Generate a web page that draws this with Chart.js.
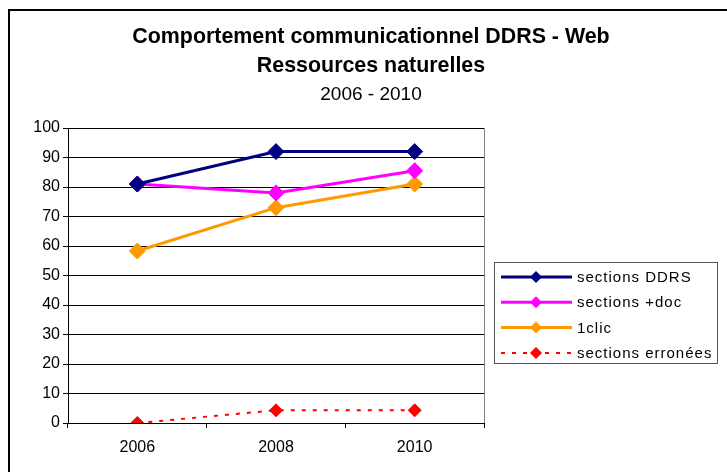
<!DOCTYPE html>
<html>
<head>
<meta charset="utf-8">
<script src="https://cdn.jsdelivr.net/npm/chart.js@4"></script>
<style>
    html, body { margin: 0; padding: 0; background: #fff; }
    #wrap { width: 727px; height: 472px; }
</style>
</head>
<body>
<div id="wrap"><canvas id="commChart" width="727" height="472"></canvas></div>
<script>
// Data
const years = ['2006', '2008', '2010'];
const sectionsDDRS = [81, 92, 92];
const sectionsDoc = [81, 78, 85.5];
const unClic = [58.3, 73, 81];
const sectionsErronees = [0, 4.3, 4.3];

const titleLines = ['Comportement communicationnel DDRS - Web', 'Ressources naturelles'];
const subtitleText = '2006 - 2010';

// Frame, title, plot border and boxed legend
const decorPlugin = {
    id: 'decor',
    afterDraw(chart) {
        const ctx = chart.ctx;
        const area = chart.chartArea;
        ctx.save();

        // outer frame (top + left visible)
        ctx.strokeStyle = '#000';
        ctx.lineWidth = 2;
        ctx.beginPath();
        ctx.moveTo(9, 472);
        ctx.lineTo(9, 10);
        ctx.lineTo(727, 10);
        ctx.stroke();

        // plot right border
        ctx.strokeStyle = '#808080';
        ctx.lineWidth = 1;
        ctx.beginPath();
        ctx.moveTo(area.right + 0.5, area.top);
        ctx.lineTo(area.right + 0.5, area.bottom);
        ctx.stroke();

        // titles
        ctx.fillStyle = '#000';
        ctx.textAlign = 'center';
        ctx.textBaseline = 'middle';
        ctx.font = 'bold 21.4px "Liberation Sans", Arial, sans-serif';
        ctx.fillText(titleLines[0], 371, 37);
        ctx.fillText(titleLines[1], 371, 66);
        ctx.font = '19px "Liberation Sans", Arial, sans-serif';
        ctx.fillText(subtitleText, 371, 95);

        // legend
        const lx = 494, ly = 262, lw = 223, lh = 101;
        ctx.strokeStyle = '#555';
        ctx.lineWidth = 1;
        ctx.strokeRect(lx + 0.5, ly + 0.5, lw, lh);

        ctx.textAlign = 'left';
        ctx.font = '15px "Liberation Sans", Arial, sans-serif';
        ctx.letterSpacing = '1px';
        chart.data.datasets.forEach((ds, i) => {
            const y = 277 + i * 25.3;
            ctx.strokeStyle = ds.borderColor;
            ctx.lineWidth = ds.legendLineWidth;
            ctx.setLineDash(ds.borderDash || []);
            ctx.beginPath();
            ctx.moveTo(501, y);
            ctx.lineTo(572, y);
            ctx.stroke();
            ctx.setLineDash([]);
            const r = 6;
            ctx.fillStyle = ds.pointBackgroundColor;
            ctx.beginPath();
            ctx.moveTo(536 - r, y);
            ctx.lineTo(536, y - r);
            ctx.lineTo(536 + r, y);
            ctx.lineTo(536, y + r);
            ctx.closePath();
            ctx.fill();
            ctx.fillStyle = '#000';
            ctx.fillText(ds.label, 577, y + 1);
        });
        ctx.restore();
    }
};

const ctx = document.getElementById('commChart').getContext('2d');
const chart = new Chart(ctx, {
    type: 'line',
    data: {
        labels: years,
        datasets: [
            {
                label: 'sections DDRS',
                data: sectionsDDRS,
                borderColor: '#000080',
                backgroundColor: '#000080',
                pointBackgroundColor: '#000080',
                pointBorderColor: '#000080',
                borderWidth: 3,
                legendLineWidth: 3,
                pointStyle: 'rectRot',
                pointRadius: 8,
                pointBorderWidth: 1,
                tension: 0
            },
            {
                label: 'sections +doc',
                data: sectionsDoc,
                borderColor: '#FF00FF',
                backgroundColor: '#FF00FF',
                pointBackgroundColor: '#FF00FF',
                pointBorderColor: '#FF00FF',
                borderWidth: 3,
                legendLineWidth: 3,
                pointStyle: 'rectRot',
                pointRadius: 8,
                pointBorderWidth: 1,
                tension: 0
            },
            {
                label: '1clic',
                data: unClic,
                borderColor: '#FF9900',
                backgroundColor: '#FF9900',
                pointBackgroundColor: '#FF9900',
                pointBorderColor: '#FF9900',
                borderWidth: 3,
                legendLineWidth: 3,
                pointStyle: 'rectRot',
                pointRadius: 8,
                pointBorderWidth: 1,
                tension: 0
            },
            {
                label: 'sections erronées',
                data: sectionsErronees,
                borderColor: '#FF0000',
                backgroundColor: '#FF0000',
                pointBackgroundColor: '#FF0000',
                pointBorderColor: '#FF0000',
                borderWidth: 2,
                legendLineWidth: 2,
                borderDash: [4, 7],
                pointStyle: 'rectRot',
                pointRadius: 6.5,
                pointBorderWidth: 1,
                tension: 0
            }
        ]
    },
    options: {
        responsive: false,
        animation: false,
        devicePixelRatio: 1,
        layout: {
            padding: { left: 10, top: 128, right: 243, bottom: 0 }
        },
        plugins: {
            legend: { display: false },
            title: { display: false },
            tooltip: { enabled: false }
        },
        scales: {
            x: {
                offset: true,
                afterFit: (scale) => { scale.height = 49; },
                grid: {
                    offset: true,
                    drawOnChartArea: false,
                    tickLength: 5,
                    color: '#000'
                },
                border: { color: '#000' },
                ticks: {
                    color: '#000',
                    padding: 10,
                    font: { family: '"Liberation Sans", Arial, sans-serif', size: 16 }
                }
            },
            y: {
                min: 0,
                max: 100,
                afterFit: (scale) => { scale.width = 58; },
                grid: {
                    tickLength: 5,
                    color: '#000'
                },
                border: { color: '#000' },
                ticks: {
                    stepSize: 10,
                    color: '#000',
                    padding: 3,
                    font: { family: '"Liberation Sans", Arial, sans-serif', size: 16 }
                }
            }
        }
    },
    plugins: [decorPlugin]
});
</script>
</body>
</html>
